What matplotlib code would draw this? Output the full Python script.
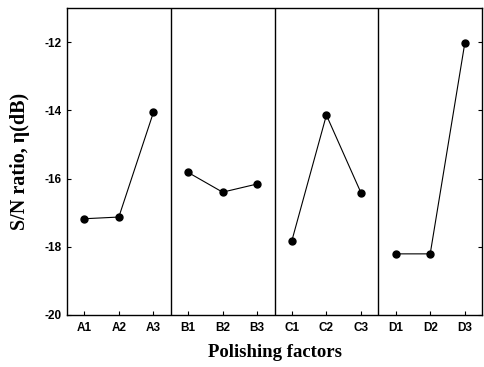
import matplotlib
matplotlib.use("Agg")
import matplotlib.pyplot as plt

plt.rcParams["axes.unicode_minus"] = False

# -- Data --
groups = ["A", "B", "C", "D"]
levels = ["1", "2", "3"]
sn_ratio = {
    "A": [-17.18, -17.13, -14.06],
    "B": [-15.82, -16.40, -16.16],
    "C": [-17.83, -14.14, -16.42],
    "D": [-18.21, -18.21, -12.03],
}
y_ticks = [-20, -18, -16, -14, -12]

fig = plt.figure(figsize=(4.85, 3.67), dpi=100)
ax = fig.add_axes([0.138, 0.142, 0.856, 0.836])

tick_labels = []
pos = 1
for g in groups:
    xs = list(range(pos, pos + len(levels)))
    ax.plot(xs, sn_ratio[g], color="black", linewidth=0.8,
            marker="o", markersize=5, markerfacecolor="black", zorder=3)
    tick_labels += [g + lv for lv in levels]
    pos += len(levels)

# separators between factor groups
for k in range(1, len(groups)):
    ax.axvline(k * len(levels) + 0.5, color="black", linewidth=1.0)

n = len(tick_labels)
ax.set_xlim(0.5, n + 0.5)
ax.set_ylim(-20, -11)
ax.set_xticks(range(1, n + 1))
ax.set_xticklabels(tick_labels)
ax.set_yticks(y_ticks)

for lab in ax.get_xticklabels() + ax.get_yticklabels():
    lab.set_fontfamily("Liberation Sans")
    lab.set_fontweight("bold")
    lab.set_fontsize(8.5)

ax.tick_params(axis="both", direction="in", length=3, width=0.8,
               right=True, labelright=False)
ax.tick_params(axis="x", pad=5)
ax.tick_params(axis="y", pad=4)

for spine in ax.spines.values():
    spine.set_linewidth(1.0)

ax.set_xlabel("Polishing factors", fontfamily="Liberation Serif",
              fontweight="bold", fontsize=13.5, labelpad=7)
ax.set_ylabel("S/N ratio, η(dB)", fontfamily="Liberation Serif",
              fontweight="bold", fontsize=14.5, labelpad=10)

fig.savefig("out.png", dpi=100, facecolor="white")
